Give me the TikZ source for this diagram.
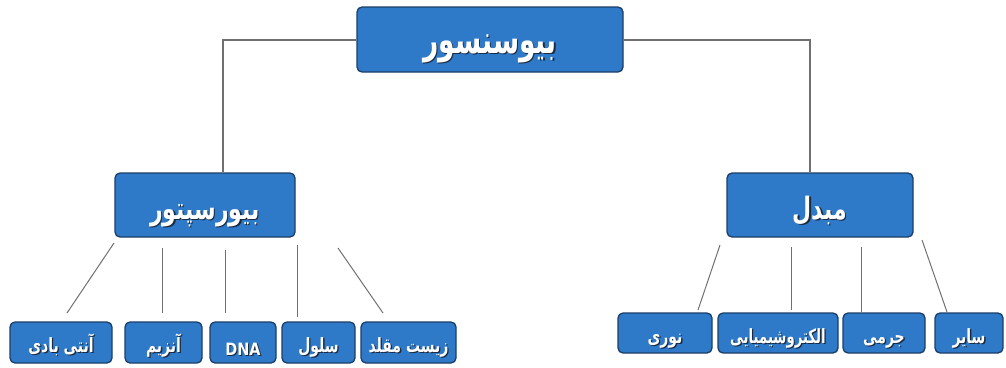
\documentclass[tikz,border=0pt]{standalone}
\usepackage{fontspec}
\usepackage{graphicx}
\TeXXeTstate=1
\newfontfamily\arabicfont[Script=Arabic]{DejaVu Sans}
\definecolor{boxblue}{HTML}{2E79C8}
\definecolor{boxborder}{HTML}{1B3E66}
\definecolor{linegray}{HTML}{707070}
\definecolor{shadowc}{HTML}{1A2A40}
\newcommand\shad[1]{\leavevmode\rlap{\kern1.3pt\raisebox{-1.3pt}{\textcolor{shadowc}{#1}}}#1}
% #1 = lowering of baseline below node centre, #2 = horizontal scale, #3 = text
\newcommand\fa[3]{\raisebox{-#1}[0pt][0pt]{\scalebox{#2}[1.4]{\shad{#3}}}}
\newcommand\la[3]{\raisebox{-#1}[0pt][0pt]{\scalebox{#2}[1]{\shad{#3}}}}
\begin{document}
\begin{tikzpicture}[x=1pt,y=-1pt,
  bx/.style={draw=boxborder,fill=boxblue,line width=1.3pt,rounded corners=5pt,
    inner sep=0pt,text=white,font=\arabicfont\bfseries,align=center},
  big/.style={bx,font=\arabicfont\bfseries\fontsize{28}{30}\selectfont},
  mid/.style={bx,font=\arabicfont\bfseries\fontsize{22}{24}\selectfont},
  leaf/.style={bx,font=\arabicfont\bfseries\fontsize{14}{16}\selectfont},
  conn/.style={draw=linegray,line width=1.2pt}]
\useasboundingbox (0,0) rectangle (1006,367);
% main nodes
\node[big,minimum width=266pt,minimum height=65pt] (top) at (490,39.5) {\fa{13.5pt}{0.95}{\beginR بیوسنسور\endR}};
\node[mid,minimum width=180pt,minimum height=64pt] (rec) at (205,205) {\fa{14pt}{1}{\beginR بیورسپتور\endR}};
\node[mid,minimum width=186pt,minimum height=64pt] (tra) at (820,205) {\fa{14pt}{1}{\beginR مبدل\endR}};
% left leaves
\node[leaf,minimum width=102pt,minimum height=41pt] (a1) at (61,342.5) {\fa{9.5pt}{1}{\beginR آنتی بادی\endR}};
\node[leaf,minimum width=77pt,minimum height=41pt] (a2) at (163.5,342.5) {\fa{9.5pt}{1}{\beginR آنزیم\endR}};
\node[leaf,minimum width=66pt,minimum height=41pt,font=\arabicfont\bfseries\fontsize{17}{18}\selectfont] (a3) at (243,342.5) {\la{12.5pt}{0.85}{DNA}};
\node[leaf,minimum width=73pt,minimum height=41pt] (a4) at (318.5,342.5) {\fa{9.5pt}{1}{\beginR سلول\endR}};
\node[leaf,minimum width=95pt,minimum height=41pt] (a5) at (408.5,342.5) {\fa{9.5pt}{1}{\beginR زیست مقلد\endR}};
% right leaves
\node[leaf,minimum width=94pt,minimum height=40pt] (b1) at (665,333) {\fa{10pt}{1}{\beginR نوری\endR}};
\node[leaf,minimum width=120pt,minimum height=40pt] (b2) at (778,333) {\fa{10pt}{0.95}{\beginR الکتروشیمیایی\endR}};
\node[leaf,minimum width=82pt,minimum height=40pt] (b3) at (884,333) {\fa{10pt}{1}{\beginR جرمی\endR}};
\node[leaf,minimum width=68pt,minimum height=40pt] (b4) at (969,333) {\fa{10pt}{1}{\beginR سایر\endR}};
% top connectors
\coordinate (lc) at (223,40);
\coordinate (rc) at (810,40);
\draw[conn] (top.west |- lc) -- (lc) -- (lc |- rec.north);
\draw[conn] (top.east |- rc) -- (rc) -- (rc |- tra.north);
% left leaf connectors
\coordinate (l1s) at (114,243); \coordinate (l1e) at (67,313);
\coordinate (l2s) at (162,248); \coordinate (l2e) at (162,313);
\coordinate (l3s) at (225,250); \coordinate (l3e) at (225,313);
\coordinate (l4s) at (297,245); \coordinate (l4e) at (297,317);
\coordinate (l5s) at (338,248); \coordinate (l5e) at (383,313);
\foreach \i in {1,...,5} {\draw[conn,line width=1pt] (l\i s) -- (l\i e);}
% right leaf connectors
\coordinate (r1s) at (720,245); \coordinate (r1e) at (698,310);
\coordinate (r2s) at (791,247); \coordinate (r2e) at (791,310);
\coordinate (r3s) at (861,247); \coordinate (r3e) at (861,312);
\coordinate (r4s) at (922,240); \coordinate (r4e) at (947,312);
\foreach \i in {1,...,4} {\draw[conn,line width=1pt] (r\i s) -- (r\i e);}
\end{tikzpicture}
\end{document}
